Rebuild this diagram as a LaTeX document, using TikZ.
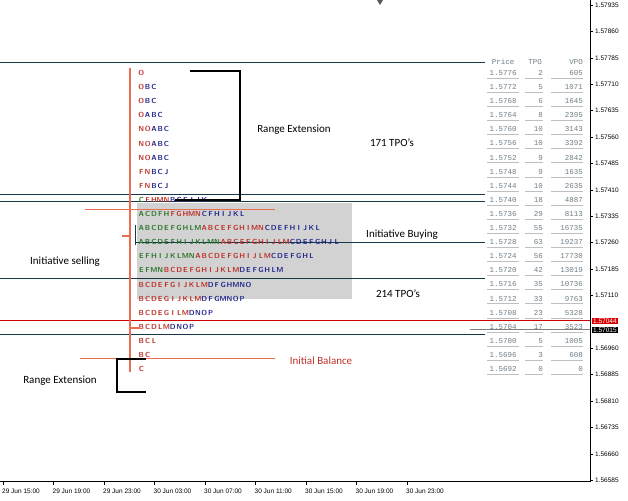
\documentclass[tikz,border=0pt]{standalone}
\usepackage{fontspec}
\setmainfont{Carlito}
\newfontfamily\axisfont{Liberation Sans}
\newfontfamily\tablefont{Liberation Mono}
\usepackage{xcolor}
\usepackage{tikz}
\definecolor{tpored}{RGB}{190,50,40}
\definecolor{tpoblue}{RGB}{35,40,140}
\definecolor{tpogreen}{RGB}{45,120,45}
\definecolor{navy}{RGB}{25,55,75}
\definecolor{ibline}{RGB}{235,110,80}
\definecolor{tablegray}{RGB}{110,125,135}
\def\spl#1{\ifx#1\relax\else\makebox[6.3pt][c]{#1}\expandafter\spl\fi}
\newcommand{\tpo}[3]{{\color{tpogreen}\spl#1\relax}{\color{tpored}\spl#2\relax}{\color{tpoblue}\spl#3\relax}}
\tikzset{
  tporow/.style={anchor=west,inner sep=0pt,font=\sffamily\bfseries\fontsize{7.3}{8}\selectfont},
  note/.style={inner sep=0pt,font=\fontsize{11}{12}\selectfont},
  tbl/.style={inner sep=0pt,text=tablegray,font=\tablefont\fontsize{7.5}{8}\selectfont},
  axlabel/.style={inner sep=0pt,font=\axisfont\fontsize{6.5}{7}\selectfont}
}
\begin{document}
\begin{tikzpicture}[x=1pt,y=-1pt]
\useasboundingbox (0,0) rectangle (628,500);
% value area
\fill[gray!35] (137,203) rectangle (352,299);
% price lines
\draw[navy,thick] (0,62) -- (485,62);
\draw[navy] (0,194) -- (485,194);
\draw[navy] (0,201) -- (485,201);
\draw[navy] (135,242) -- (485,242);
\draw[navy] (135,225) -- (135,245);
\draw[navy] (0,278) -- (485,278);
\draw[red!80!black] (0,320) -- (590,320);
\draw[gray] (470,329) -- (590,329);
\draw[navy] (0,334) -- (485,334);
\draw[ibline] (85,209) -- (275,209);
\draw[ibline] (80,358) -- (275,358);
% letters
\foreach \i/\g/\r/\b in {0//O/,1//O/BC,2//O/BC,3//O/ABC,4//NO/ABC,5//NO/ABC,6//NO/ABC,
  7//FN/BCJ,8//FN/BCJ,9/C/FHMN/BCFIJK,10/ACDFH/FGHMN/CFHIJKL,
  11/ABCDEFGHLM/ABCEFGHIMN/CDEFHIJKL,12/ABCDEFHIJKLMN/ABCEFGHIJLM/CDEFGHJL,
  13/EFHIJKLMN/ABCDEFGHIJLM/CDEFGHL,14/EFMN/BCDEFGHIJKLM/DEFGHLM,
  15//BCDEFGIJKLM/DFGHMNO,16//BCDEGIJKLM/DFGMNOP,17//BCDEGILM/DNOP,
  18//BCDLM/DNOP,19//BCL/,20//BC/,21//C/}
  \node[tporow] (r\i) at (138,73+14.1*\i) {\edef\row{\noexpand\tpo{\g}{\r}{\b}}\row};
\draw[ibline,line width=1.6pt] (130,68) -- (130,372);
\draw[ibline,line width=1.2pt] (122,236) -- (130,236);
\draw[ibline,line width=1.2pt] (130,328) -- (140,328);
% brackets
\draw[line width=1.5pt] (190,71) -- (240,71) -- (240,200) -- (175,200);
\draw[line width=1.5pt] (146,359) -- (117,359) -- (117,392) -- (146,392);
% notes
\node[note] (re1) at (294,130) {Range Extension};
\node[note] (tpo1) at (392,143) {171 TPO's};
\node[note] (ib) at (402,235) {Initiative Buying};
\node[note] (is) at (65,262) {Initiative selling};
\node[note] (tpo2) at (398,294) {214 TPO's};
\node[note,text=tpored] (bal) at (321,361) {Initial Balance};
\node[note] (re2) at (60,381) {Range Extension};
% table
\node[tbl] (hp) at (503,62) {Price};
\node[tbl] (ht) at (535,62) {TPO};
\node[tbl,anchor=east] (hv) at (583,62) {VPO};
\foreach \i/\p/\t/\v in {0/1.5776/2/605,1/1.5772/5/1071,2/1.5768/6/1645,3/1.5764/8/2395,
  4/1.5760/10/3143,5/1.5756/10/3392,6/1.5752/9/2842,7/1.5748/9/1635,8/1.5744/10/2635,
  9/1.5740/18/4887,10/1.5736/29/8113,11/1.5732/55/16735,12/1.5728/63/19237,
  13/1.5724/56/17730,14/1.5720/42/13019,15/1.5716/35/10736,16/1.5712/33/9763,
  17/1.5708/23/5328,18/1.5704/17/3523,19/1.5700/5/1005,20/1.5696/3/608,21/1.5692/0/0}{
  \node[tbl] (p\i) at (503,73+14.1*\i) {\p};
  \node[tbl,anchor=east] (t\i) at (543,73+14.1*\i) {\t};
  \node[tbl,anchor=east] (v\i) at (583,73+14.1*\i) {\v};
  \draw[gray!50] (487,78+14.1*\i) -- (519,78+14.1*\i) (525,78+14.1*\i) -- (543,78+14.1*\i)
    (551,78+14.1*\i) -- (583,78+14.1*\i);
}
% axes
\draw (590,0) -- (590,481) -- (0,481);
\fill[gray!70!black] (377,0) -- (383,0) -- (380,5) -- cycle;
\foreach \k/\v in {0/1.57935,1/1.57860,2/1.57785,3/1.57710,4/1.57635,5/1.57560,6/1.57485,
  7/1.57410,8/1.57335,9/1.57260,10/1.57185,11/1.57110,13/1.56960,14/1.56885,15/1.56810,
  16/1.56735,17/1.56660,18/1.56585}{
  \draw (590,5+26.4*\k) -- (593,5+26.4*\k);
  \node[axlabel,anchor=west] (y\k) at (595,5+26.4*\k) {\v};
}
\node[axlabel,anchor=west,fill=red!85!black,text=white,inner sep=1pt] (bid) at (592,321) {1.57044};
\node[axlabel,anchor=west,fill=black,text=white,inner sep=1pt] (ask) at (592,330) {1.57015};
\foreach \k/\t in {0/29 Jun 15:00,1/29 Jun 19:00,2/29 Jun 23:00,3/30 Jun 03:00,4/30 Jun 07:00,
  5/30 Jun 11:00,6/30 Jun 15:00,7/30 Jun 19:00,8/30 Jun 23:00}{
  \draw (3+50.5*\k,481) -- (3+50.5*\k,485);
  \node[axlabel,anchor=west] (x\k) at (2+50.5*\k,491) {\t};
}
\end{tikzpicture}
\end{document}
